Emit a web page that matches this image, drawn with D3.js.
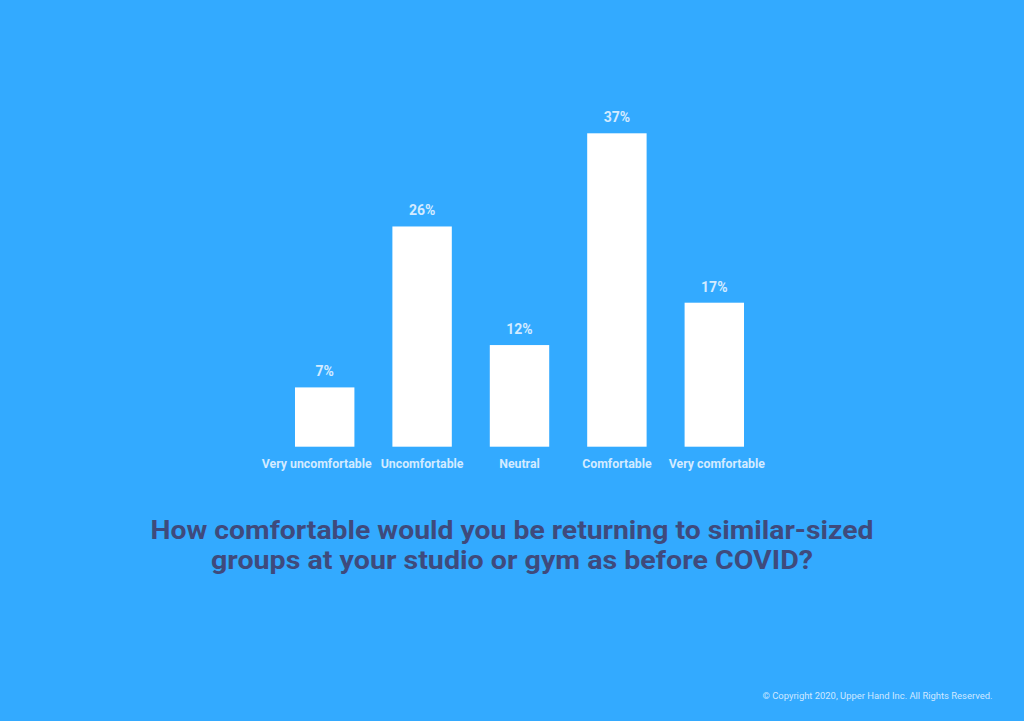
<!DOCTYPE html>
<html><head><meta charset="utf-8">
<script src="https://cdn.jsdelivr.net/npm/d3@7"></script>
<style>html,body{margin:0;padding:0;background:#33aaff;}svg{display:block;}</style>
</head><body>
<svg id="chart" width="1024" height="721"></svg>
<script>
const categories = ["Very uncomfortable","Uncomfortable","Neutral","Comfortable","Very comfortable"];
const values = [7, 26, 12, 37, 17];
const valueLabels = ["7%","26%","12%","37%","17%"];
const titleLines = ["How comfortable would you be returning to similar-sized","groups at your studio or gym as before COVID?"];
const footer = "© Copyright 2020, Upper Hand Inc. All Rights Reserved.";

const svg = d3.select("#chart");
svg.append("rect").attr("width",1024).attr("height",721).attr("fill","#33aaff");

const x = d3.scaleBand().domain(categories).range([276, 763]).paddingInner(0.39).paddingOuter(0.195);
const y = d3.scaleLinear().domain([0, 37]).range([446.7, 133.3]);

const g = svg.append("g");
g.selectAll("rect.bar").data(values).join("rect").attr("class","bar")
  .attr("x",(d,i)=>x(categories[i])).attr("width",x.bandwidth())
  .attr("y",d=>y(d)).attr("height",d=>y(0)-y(d)).attr("fill","#ffffff");

g.selectAll("text.val").data(values).join("text").attr("class","val")
  .attr("x",(d,i)=>x(categories[i])+x.bandwidth()/2).attr("y",d=>y(d)-11)
  .attr("text-anchor","middle").attr("fill","#d3ebff")
  .style("font-family","Roboto, sans-serif").style("font-weight","700").style("font-size","14px")
  .text((d,i)=>valueLabels[i]);

const xAxis = d3.axisBottom(x).tickSize(0).tickPadding(0);
const ax = svg.append("g").attr("transform",`translate(0,${y(0)+21})`).call(xAxis);
ax.select(".domain").remove();
ax.selectAll("text").attr("fill","#d3ebff").attr("dy",0)
  .attr("dx",(d,i)=> i===0 ? -8 : (i===categories.length-1 ? 2.5 : 0))
  .style("font-family","Roboto, sans-serif").style("font-weight","700").style("font-size","12.3px");

const tw = [723, 602];
svg.selectAll("text.title").data(titleLines).join("text").attr("class","title")
  .attr("x",512).attr("y",(d,i)=>538.5+i*30).attr("text-anchor","middle")
  .attr("fill","#3f4a7c").attr("textLength",(d,i)=>tw[i]).attr("lengthAdjust","spacingAndGlyphs")
  .style("font-family","Roboto, sans-serif").style("font-weight","700").style("font-size","26px")
  .text(d=>d);

svg.append("text").attr("x",877.5).attr("y",699).attr("text-anchor","middle")
  .attr("fill","#cfe8ff").attr("textLength",230).attr("lengthAdjust","spacingAndGlyphs")
  .style("font-family","Roboto, sans-serif").style("font-size","9px").text(footer);
</script>
</body></html>
